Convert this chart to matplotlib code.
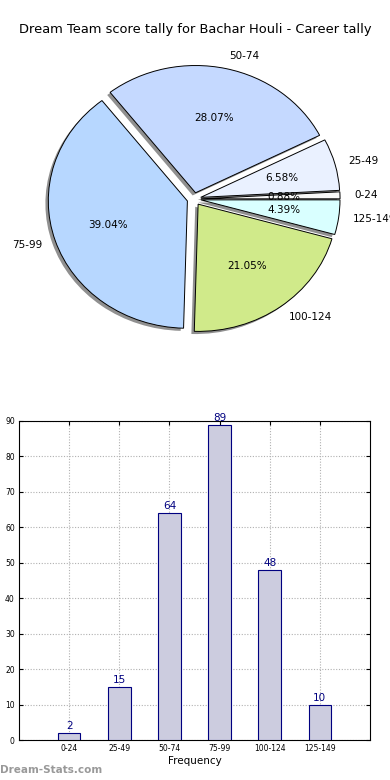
import matplotlib
matplotlib.use("Agg")
import matplotlib.pyplot as plt

categories = ["0-24", "25-49", "50-74", "75-99", "100-124", "125-149"]
counts = [2, 15, 64, 89, 48, 10]
pie_colors = ["#f8f8f8", "#eaf1ff", "#c5d9ff", "#b7d7ff", "#d0ea8a", "#d9ffff"]
title = "Dream Team score tally for Bachar Houli - Career tally"

fig = plt.figure(figsize=(3.9, 7.8), dpi=100)
fig.text(0.5, 1 - 30 / 780, title, ha="center", va="center", fontsize=9.4)

# Pie chart
axp = fig.add_axes([41 / 390, 1 - 339 / 780, 306 / 390, 280 / 780])
wedges, texts, autotexts = axp.pie(
    counts, labels=categories, colors=pie_colors, explode=[0.05] * len(counts),
    autopct="%1.2f%%", startangle=0,
    shadow={"ox": -0.015, "oy": -0.015, "facecolor": "#555555",
            "edgecolor": "none", "alpha": 0.65},
    labeldistance=1.1, pctdistance=0.6,
    wedgeprops=dict(edgecolor="black", linewidth=0.7),
    textprops=dict(fontsize=7.5))
axp.set_aspect("auto")
axp.set_xlim(-1.1, 1.1)
axp.set_ylim(-1.1, 1.1)
axp.set_frame_on(False)

# Bar chart
axb = fig.add_axes([19 / 390, 1 - 740 / 780, 351 / 390, 319 / 780])
xpos = list(range(1, len(categories) + 1))
axb.bar(xpos, counts, width=0.45, color="#ccccdf", edgecolor="#000080", linewidth=0.8, zorder=3)
for x, v in zip(xpos, counts):
    axb.text(x, v + 0.5, str(v), ha="center", va="bottom", fontsize=7.5, color="#000080", zorder=4)
axb.set_xlim(0, 7)
axb.set_ylim(0, 90)
axb.set_xticks(xpos)
axb.set_xticklabels(categories)
axb.set_yticks(range(0, 91, 10))
axb.tick_params(direction="in", top=True, right=True, labelsize=5.5, length=3, pad=3)
axb.grid(True, linestyle=(0, (1, 1.5)), color="#b0b0b0", linewidth=0.8, zorder=0)
axb.set_axisbelow(True)
axb.set_xlabel("Frequency", fontsize=7.5, labelpad=2)

fig.text(0.0, 1 - 770 / 780, "Dream-Stats.com", ha="left", va="center", fontsize=7.5,
         color="#999999", fontweight="bold")

fig.savefig("out.png", dpi=100)
